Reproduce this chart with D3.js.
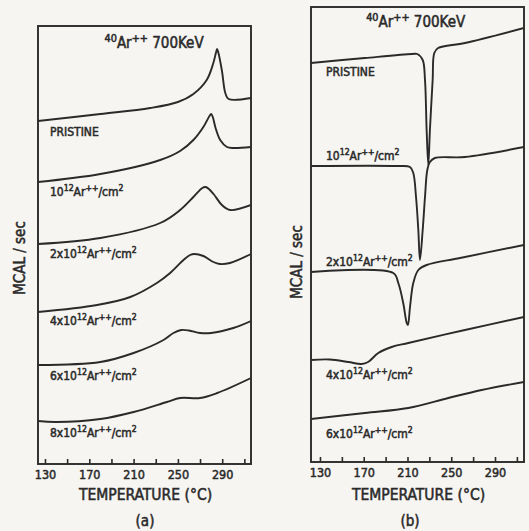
<!DOCTYPE html>
<html>
<head>
<meta charset="utf-8">
<script src="https://cdn.jsdelivr.net/npm/d3@7"></script>
<style>
body { margin: 0; background: #f6f5f1; }
svg { display: block; }
text { font-family: "DejaVu Sans Condensed", "DejaVu Sans", sans-serif; fill: #2a2a2a; stroke: #2a2a2a; stroke-width: 0.5px; }
</style>
</head>
<body>
<svg id="chart" width="529" height="531"></svg>
<script>
// temperature ticks (every 20 C), only some labelled
const tempTicks = [130, 150, 170, 190, 210, 230, 250, 270, 290, 310]
const tickLabels = [130, 170, 210, 250, 290]

// label pieces: odd entries are superscripts
const title = ["", "40", "Ar", "++", " 700KeV"]
const doseLabelsA = [
	["PRISTINE"],
	["10", "12", "Ar", "++", "/cm", "2"],
	["2x10", "12", "Ar", "++", "/cm", "2"],
	["4x10", "12", "Ar", "++", "/cm", "2"],
	["6x10", "12", "Ar", "++", "/cm", "2"],
	["8x10", "12", "Ar", "++", "/cm", "2"]
]
const doseLabelsB = doseLabelsA.slice(0, 5)

// panel (a): [temperature C, mcal/sec (arbitrary offset units)]
const a_pristine = [[123.7, 34.3], [180, 35.0], [225, 35.6], [250, 36.2], [264, 37.0], [276, 38.4], [282, 40.1], [284.3, 41.1], [285.4, 41.5], [286.6, 41.1], [289.8, 39.3], [292.8, 37.1], [295.8, 36.5], [316, 36.6]]
const a_1e12 = [[123.7, 28.2], [180, 29.0], [234, 30.4], [252, 31.3], [264, 32.4], [273, 33.7], [278.5, 34.8], [280, 35.0], [281.5, 34.7], [284, 33.6], [288.2, 32.4], [294.3, 31.7], [300.3, 31.6], [316, 31.7]]
const a_2e12 = [[123.7, 22.0], [180, 22.6], [234, 24.1], [252, 25.4], [264, 26.7], [272, 27.6], [275, 27.7], [278, 27.5], [282.2, 27.0], [289.8, 25.9], [297.3, 25.4], [316, 25.9]]
const a_4e12 = [[123.7, 15.2], [177, 15.9], [207, 16.7], [231, 18.1], [243, 19.1], [255, 20.4], [261, 20.9], [265, 21.0], [273, 20.8], [282, 20.2], [288, 20.0], [297, 20.1], [316, 21.0]]
const a_6e12 = [[123.7, 9.9], [180, 10.2], [210, 11.1], [237, 12.4], [246, 13.1], [253, 13.4], [260, 13.35], [270, 13.1], [280, 13.1], [300, 13.6], [316, 14.3]]
const a_8e12 = [[123.7, 4.3], [140, 4.2], [180, 4.5], [210, 5.2], [240, 6.2], [252, 6.6], [270, 6.6], [285.5, 7.1], [316, 8.6]]

// panel (b)
const b_pristine = [[121.8, 39.9], [171, 40.4], [214, 40.8], [219, 40.8], [223.9, 40.2], [226, 38.2], [227.5, 33.2], [229, 29.7], [230.5, 33.2], [233, 38.2], [234.5, 40.9], [238, 41.4], [262.5, 41.9], [316.5, 43.4]]
const b_1e12 = [[121.8, 29.6], [201, 29.6], [212.3, 29.5], [215.3, 28.9], [217.8, 26.5], [219.9, 23.2], [221.4, 20.2], [223.9, 23.2], [226, 26.5], [228.1, 29.2], [230.5, 30.0], [235, 30.4], [262.5, 30.5], [316.5, 31.5]]
const b_2e12 = [[121.8, 19.0], [197, 18.9], [201.6, 17.9], [206.1, 15.9], [209.3, 13.9], [210.4, 13.7], [212.3, 15.5], [215.3, 17.9], [219.9, 19.2], [227.5, 19.7], [258, 20.4], [316.5, 21.7]]
const b_4e12 = [[121.8, 10.2], [139, 10.25], [156, 10.0], [168, 9.8], [174, 10.0], [183.3, 10.9], [195.5, 11.5], [210.7, 11.9], [262.5, 13.2], [316.5, 14.5]]
const b_6e12 = [[121.8, 4.3], [171, 4.9], [210.7, 5.4], [247.3, 6.4], [277.8, 7.2], [316.5, 8.0]]

const panels = [
	{
		id: "a", left: 38, right: 251, top: 26, bottom: 464,
		tDomain: [123.7, 316], vDomain: [0, 43.8],
		curves: [a_pristine, a_1e12, a_2e12, a_4e12, a_6e12, a_8e12],
		labels: doseLabelsA, labelDx: 12, labelDy: [15, 14, 14, 13, 15, 16],
		titleT: 228.5, titleY: 48, yLabelX: 20, yLabelY: 258, caption: "(a)", captionX: 145
	},
	{
		id: "b", left: 311, right: 524, top: 7, bottom: 462,
		tDomain: [121.8, 316.5], vDomain: [0, 45.5],
		curves: [b_pristine, b_1e12, b_2e12, b_4e12, b_6e12],
		labels: doseLabelsB, labelDx: 15, labelDy: [13, -6, -6, 19, 19],
		titleT: 217.5, titleY: 27, yLabelX: 297, yLabelY: 262, caption: "(b)", captionX: 410
	}
]

const ink = "#2a2a2a"
const svg = d3.select("#chart")

// write pieces as text, odd pieces raised and smaller
const writePieces = function(sel, pieces, size){
	pieces.forEach((s, i) => {
		if(!s) return
		const sup = i % 2 === 1
		sel.append("tspan")
			.attr("dy", sup ? -size * 0.4 : (i > 0 && pieces[i - 1] ? size * 0.4 : 0))
			.attr("font-size", sup ? size * 0.72 : size)
			.text(s)
	})
}

const drawPanel = function(p){
	const x = d3.scaleLinear().domain(p.tDomain).range([p.left, p.right])
	const y = d3.scaleLinear().domain(p.vDomain).range([p.bottom, p.top])
	const g = svg.append("g")

	g.append("clipPath").attr("id", "clip-" + p.id)
		.append("rect")
		.attr("x", p.left).attr("y", p.top)
		.attr("width", p.right - p.left).attr("height", p.bottom - p.top)

	const line = d3.line()
		.x(d => x(d[0]))
		.y(d => y(d[1]))
		.curve(d3.curveCatmullRom.alpha(0.5))

	g.append("g").attr("clip-path", `url(#clip-${p.id})`)
		.selectAll("path")
		.data(p.curves)
		.join("path")
		.attr("d", line)
		.attr("fill", "none")
		.attr("stroke", ink)
		.attr("stroke-width", 1.9)
		.attr("stroke-linejoin", "round")

	// bottom axis, ticks pointing inward
	const axis = d3.axisBottom(x)
		.tickValues(tempTicks)
		.tickSizeInner(-5)
		.tickSizeOuter(0)
		.tickPadding(6)
		.tickFormat(d => tickLabels.includes(d) ? d : "")
	const ax = g.append("g").attr("transform", `translate(0,${p.bottom})`).call(axis)
	ax.select(".domain").remove()
	ax.selectAll(".tick line").attr("stroke", ink).attr("stroke-width", 1.6)
	ax.selectAll(".tick text")
		.attr("font-size", 12.5)
		.attr("fill", ink)
		.style("font-family", '"DejaVu Sans Condensed", "DejaVu Sans", sans-serif')

	// frame
	g.append("rect")
		.attr("x", p.left).attr("y", p.top)
		.attr("width", p.right - p.left).attr("height", p.bottom - p.top)
		.attr("fill", "none").attr("stroke", ink).attr("stroke-width", 1.9)

	// dose labels under / over each curve
	p.curves.forEach((c, i) => {
		const t = g.append("text")
			.attr("x", p.left + p.labelDx)
			.attr("y", y(c[0][1]) + p.labelDy[i])
		writePieces(t, p.labels[i], 12)
	})

	const tt = g.append("text")
		.attr("x", x(p.titleT)).attr("y", p.titleY)
		.attr("text-anchor", "middle")
	writePieces(tt, title, 15)

	g.append("text")
		.attr("transform", `translate(${p.yLabelX},${p.yLabelY}) rotate(-90)`)
		.attr("text-anchor", "middle")
		.attr("dy", "0.35em")
		.attr("font-size", 15)
		.text("MCAL / sec")

	const mid = (p.left + p.right) / 2
	g.append("text")
		.attr("x", mid + 1).attr("y", 500)
		.attr("text-anchor", "middle")
		.attr("font-size", 15.5)
		.text("TEMPERATURE (°C)")

	g.append("text")
		.attr("x", p.captionX).attr("y", 526)
		.attr("text-anchor", "middle")
		.attr("font-size", 15)
		.text(p.caption)
}

panels.forEach(drawPanel)
</script>
</body>
</html>
